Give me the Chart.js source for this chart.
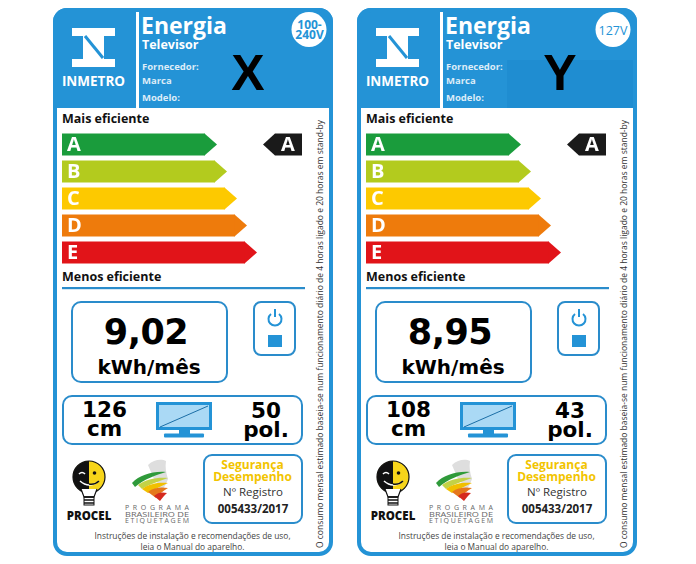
<!DOCTYPE html>
<html>
<head>
<meta charset="utf-8">
<script src="https://cdn.jsdelivr.net/npm/chart.js@4.4.1/dist/chart.umd.min.js"></script>
<style>
  body { margin: 0; width: 696px; height: 564px; background: #fff; position: relative; overflow: hidden; font-family: "Open Sans", sans-serif; }
  .lbl { position: absolute; top: 8px; width: 280px; height: 548px; background: #fff; }
  .lbl svg.bg { position: absolute; left: 0; top: 0; }
  .lbl canvas { position: absolute; }
  .t { position: absolute; white-space: nowrap; line-height: 1; }
</style>
</head>
<body>
<script>
// classes of the efficiency scale
const classes = ['A', 'B', 'C', 'D', 'E'];
const classLengths = [143, 153, 163, 173, 183];
const classColors = ['#1a9c3c', '#b3cb1e', '#fdc900', '#ee7b0c', '#e11419'];

// the two televisions
const productNames = ['X', 'Y'];
const voltages = [['100-', '240V'], ['127V']];
const ratings = ['A', 'A'];
const consumption = [9.02, 8.95];     // kWh/mês
const sizeCm = [126, 108];
const sizeIn = [50, 43];
const registro = ['005433/2017', '005433/2017'];

const BLUE = '#2493d6';
const LINE = '#2a8ccb';
const labelLeft = [53, 357];

function txt(parent, s, x, y, css, center) {
  const d = document.createElement('div');
  d.className = 't';
  d.textContent = s;
  d.style.cssText += css;
  d.style.left = x + 'px';
  d.style.top = y + 'px';
  d.style.transform = center ? 'translate(-50%,-50%)' : 'translateY(-50%)';
  parent.appendChild(d);
  return d;
}

// stacked lines in one block (y = middle of the block)
function lines(parent, arr, x, y, lh, css) {
  const d = txt(parent, '', x, y, css + 'line-height:' + lh + 'px;text-align:center;', true);
  d.innerHTML = arr.join('<br>');
  return d;
}

// arrow tips + letters on the class bars, and the black rating arrow
const arrowPlugin = {
  id: 'arrows',
  afterDatasetsDraw(chart) {
    const ctx = chart.ctx;
    const meta = chart.getDatasetMeta(0);
    ctx.save();
    meta.data.forEach((bar, i) => {
      const h = bar.height;
      ctx.fillStyle = classColors[i];
      ctx.beginPath();
      ctx.moveTo(bar.x - 0.5, bar.y - h / 2);
      ctx.lineTo(bar.x + 12, bar.y);
      ctx.lineTo(bar.x - 0.5, bar.y + h / 2);
      ctx.closePath();
      ctx.fill();
      ctx.fillStyle = '#fff';
      ctx.font = 'bold 20px "Open Sans"';
      ctx.textBaseline = 'middle';
      ctx.textAlign = 'left';
      ctx.fillText(classes[i], bar.base + 5, bar.y + 1);
    });
    const rating = chart.options.plugins.arrows.rating;
    const idx = classes.indexOf(rating);
    const y = chart.scales.y.getPixelForValue(idx);
    const h = meta.data[idx].height;
    const right = chart.chartArea.right - 3;
    ctx.fillStyle = '#1a1a1a';
    ctx.beginPath();
    ctx.moveTo(right - 39, y);
    ctx.lineTo(right - 27, y - h / 2);
    ctx.lineTo(right, y - h / 2);
    ctx.lineTo(right, y + h / 2);
    ctx.lineTo(right - 27, y + h / 2);
    ctx.closePath();
    ctx.fill();
    ctx.fillStyle = '#fff';
    ctx.textAlign = 'center';
    ctx.fillText(rating, right - 14, y + 1);
    ctx.restore();
  }
};

function makeLabel(k) {
  const lbl = document.createElement('div');
  lbl.className = 'lbl';
  lbl.style.left = labelLeft[k] + 'px';
  document.body.appendChild(lbl);

  const redact = k === 1 ? `<rect x="150" y="52" width="126" height="48" fill="#1f8dd1"/>` : '';
  lbl.innerHTML = `
<svg class="bg" width="280" height="548" viewBox="0 0 280 548">
  <path d="M0,100 V14 A14,14 0 0 1 14,0 H266 A14,14 0 0 1 280,14 V100 Z" fill="${BLUE}"/>
  ${redact}
  <rect x="83" y="0" width="3" height="100" fill="#fff"/>
  <g transform="translate(19,20)">
    <rect x="0" y="0" width="43" height="8" fill="#fff"/>
    <rect x="0" y="31" width="43" height="8" fill="#fff"/>
    <rect x="11" y="8" width="21" height="23" fill="#fff"/>
    <line x1="13" y1="8" x2="31" y2="30" stroke="${BLUE}" stroke-width="3"/>
  </g>
  <circle cx="256" cy="21.5" r="17.5" fill="#fff"/>
  <rect x="9" y="279" width="243" height="2.2" fill="${LINE}"/>
  <rect x="19" y="294" width="155" height="80" rx="9" fill="none" stroke="${LINE}" stroke-width="2"/>
  <rect x="201" y="294" width="41" height="53" rx="7" fill="none" stroke="${LINE}" stroke-width="2"/>
  <path d="M218,306 A6.5,6.5 0 1 0 226,306" fill="none" stroke="${BLUE}" stroke-width="2"/>
  <line x1="222" y1="301" x2="222" y2="309" stroke="${BLUE}" stroke-width="2"/>
  <rect x="215" y="327" width="14" height="12" fill="${BLUE}"/>
  <rect x="10" y="388" width="239" height="48" rx="9" fill="none" stroke="${LINE}" stroke-width="2"/>
  <g transform="translate(103,394)">
    <rect x="1.5" y="1.5" width="53" height="25" fill="#aad9f5" stroke="${BLUE}" stroke-width="3"/>
    <line x1="4" y1="25" x2="52" y2="4" stroke="#1b6ea6" stroke-width="1"/>
    <rect x="23" y="28" width="11" height="4" fill="${BLUE}"/>
    <rect x="8" y="31.5" width="40" height="4" rx="1" fill="${BLUE}"/>
  </g>
  <g transform="translate(20,452)">
    <circle cx="16" cy="17" r="16" fill="#f7d51a" stroke="#111" stroke-width="1.2"/>
    <path d="M16,1 A16,16 0 0 0 16,33 Z" fill="#111"/>
    <path d="M6,14 Q9,11 12,14" fill="none" stroke="#fff" stroke-width="1.6"/>
    <circle cx="21.5" cy="13" r="1.8" fill="#111"/>
    <path d="M7,21 Q16,29 26,21" fill="none" stroke="#fff" stroke-width="1.6"/>
    <path d="M16,24 Q22,25 26,21" fill="none" stroke="#111" stroke-width="1.6"/>
    <path d="M8,29 L11,37 H21 L24,29" fill="#fff" stroke="#111" stroke-width="1.2"/>
    <path d="M11,37 H21 M11,40 H21 M11,43 H21" stroke="#111" stroke-width="1.4"/>
    <rect x="11" y="37" width="10" height="8" fill="none" stroke="#111" stroke-width="1"/>
  </g>
  <g transform="translate(79,451)">
    <path d="M16,6 C22,0 30,0 34,2 C33,8 34,14 36,20 C34,26 30,32 26,38 C27,30 28,24 22,20 Z" fill="#dedede"/>
    <path d="M0,24 C8,16 20,12 34,13 C24,16 12,20 3,28 Z" fill="#2f9a3a"/>
    <path d="M6,26 C14,20 26,18 36,19 C28,22 18,25 10,30 Z" fill="#c3d247"/>
    <path d="M10,30 C18,24 28,23 36,24 C30,27 22,30 16,34 Z" fill="#f1c000"/>
    <path d="M16,33 C22,28 30,28 36,29 C31,32 27,35 24,39 Z" fill="#e5781c"/>
    <path d="M22,37 C26,33 31,33 35,34 C32,37 30,39 28,42 Z" fill="#d52a1f"/>
  </g>
  <text x="104" y="502" font-size="7" font-family="Open Sans" fill="#666" text-anchor="middle" textLength="64" lengthAdjust="spacing">PROGRAMA</text>
  <text x="104" y="508.5" font-size="7" font-family="Open Sans" fill="#666" text-anchor="middle" textLength="64" lengthAdjust="spacingAndGlyphs">BRASILEIRO DE</text>
  <text x="104" y="515" font-size="7" font-family="Open Sans" fill="#666" text-anchor="middle" textLength="64" lengthAdjust="spacing">ETIQUETAGEM</text>
  <rect x="151" y="447" width="98" height="68" rx="8" fill="none" stroke="${LINE}" stroke-width="2"/>
  <text transform="translate(270,540) rotate(-90)" font-size="9.3" font-family="Open Sans" fill="#333" textLength="428" lengthAdjust="spacingAndGlyphs">O consumo mensal estimado baseia-se num funcionamento diário de 4 horas ligado e 20 horas em stand-by</text>
  <rect x="2" y="2" width="276" height="544" rx="12" fill="none" stroke="${BLUE}" stroke-width="4"/>
</svg>`;

  // header texts
  txt(lbl, 'INMETRO', 40.5, 74, 'font-size:13.5px;font-weight:700;color:#fff;', true);
  txt(lbl, 'Energia', 88, 17, 'font-size:23px;font-weight:700;color:#fff;');
  txt(lbl, 'Televisor', 89, 37, 'font-size:12.5px;font-weight:700;color:#fff;');
  txt(lbl, 'Fornecedor:', 89, 59, 'font-size:9.5px;font-weight:700;color:#dcecf8;');
  txt(lbl, 'Marca', 89, 73, 'font-size:9.5px;font-weight:700;color:#dcecf8;');
  txt(lbl, 'Modelo:', 89, 89.5, 'font-size:9.5px;font-weight:700;color:#dcecf8;');
  const v = voltages[k];
  if (v.length === 2) {
    lines(lbl, v, 256.5, 22, 10, 'font-size:12px;font-weight:700;color:' + BLUE + ';');
  } else {
    txt(lbl, v[0], 256, 23, 'font-size:12.5px;color:' + BLUE + ';', true);
  }
  txt(lbl, productNames[k], k === 0 ? 195 : 203, 65, 'font-family:"Liberation Sans";font-size:50px;font-weight:700;color:#000;', true);

  txt(lbl, 'Mais eficiente', 9, 111, 'font-size:12.5px;font-weight:700;color:#111;');
  txt(lbl, 'Menos eficiente', 9, 269, 'font-size:12.5px;font-weight:700;color:#111;');

  // consumption and size
  const big = 'font-family:"DejaVu Sans";font-weight:700;color:#000;';
  txt(lbl, consumption[k].toFixed(2).replace('.', ','), 93, 324, big + 'font-size:35px;letter-spacing:-0.5px;', true);
  txt(lbl, 'kWh/mês', 96, 359, big + 'font-size:20px;', true);
  lines(lbl, [String(sizeCm[k]), 'cm'], 51.5, 411, 19, big + 'font-size:21.5px;');
  lines(lbl, [String(sizeIn[k]), 'pol.'], 213, 412, 19, big + 'font-size:21.5px;');

  // bottom
  txt(lbl, 'PROCEL', 36, 508, 'font-size:11.5px;font-weight:800;color:#111;', true);
  lines(lbl, ['Segurança', 'Desempenho'], 199.5, 463, 12, 'font-size:12px;font-weight:700;color:#f2c400;');
  txt(lbl, 'Nº Registro', 200, 484, 'font-size:11.5px;color:#333;', true);
  txt(lbl, registro[k], 200, 501, 'font-size:11.5px;font-weight:700;color:#222;', true);
  lines(lbl, ['Instruções de instalação e recomendações de uso,', 'leia o Manual do aparelho.'], 139.5, 532.5, 11, 'font-size:8.4px;color:#444;');

  // class bars
  const cv = document.createElement('canvas');
  cv.width = 243; cv.height = 135;
  cv.style.left = '9px'; cv.style.top = '122.5px';
  cv.style.width = '243px'; cv.style.height = '135px';
  lbl.appendChild(cv);
  new Chart(cv, {
    type: 'bar',
    data: {
      labels: classes,
      datasets: [{
        data: classLengths,
        backgroundColor: classColors,
        borderWidth: 0,
        barPercentage: 0.815,
        categoryPercentage: 1
      }]
    },
    options: {
      indexAxis: 'y',
      responsive: false,
      animation: false,
      events: [],
      layout: { padding: 0 },
      plugins: { legend: { display: false }, tooltip: { enabled: false }, arrows: { rating: ratings[k] } },
      scales: {
        x: { display: false, min: 0, max: 243 },
        y: { display: false }
      }
    },
    plugins: [arrowPlugin]
  });
}

makeLabel(0);
makeLabel(1);
</script>
</body>
</html>
